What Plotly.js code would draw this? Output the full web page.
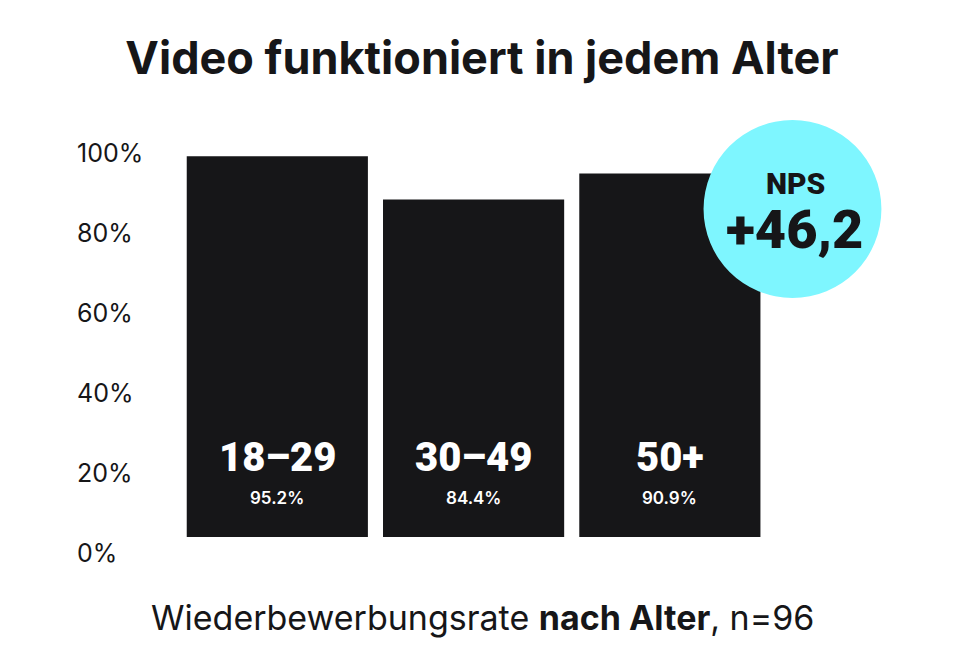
<!DOCTYPE html>
<html>
<head>
<meta charset="utf-8">
<script src="https://cdn.plot.ly/plotly-3.0.1.min.js"></script>
<style>html,body{margin:0;padding:0;background:#fff;}#chart{width:980px;height:661px;}</style>
</head>
<body>
<div id="chart"></div>
<script>
const categories = ["18–29", "30–49", "50+"];
const values = [95.2, 84.4, 90.9];
const valueLabels = ["95.2%", "84.4%", "90.9%"];
const yTicks = [0, 20, 40, 60, 80, 100];
const yTickText = ["0%", "20%", "40%", "60%", "80%", "100%"];
const npsLabel = "NPS";
const npsValue = "+46,2";
const titleText = "Video funktioniert in jedem Alter";
const footerText = "Wiederbewerbungsrate <b>nach Alter</b>, n=96";

const FONT = "Inter, 'Open Sans', sans-serif";
const HEAVY = "Roboto, Inter, sans-serif";
const DARK = "#161618";

// baseline (0%) at y=537, 4 px per percent; plot area x 74..768.5, y 120..585
const L = 74, R = 768.5, T = 120, B = 585, BASE = 537;
const px = v => (v - L) / (R - L);
const py = v => (B - v) / (B - T);

const annotations = [];
categories.forEach((c, i) => {
  annotations.push({x: c, y: 20, xref: "x", yref: "y", text: c, showarrow: false,
    font: {family: HEAVY, size: 40, color: "#ffffff", weight: 900}, xanchor: "center", yanchor: "middle"});
  annotations.push({x: c, y: 9.75, xref: "x", yref: "y", text: valueLabels[i], showarrow: false,
    font: {family: FONT, size: 17, color: "#ffffff", weight: 600}, xanchor: "center", yanchor: "middle"});
});
annotations.push({x: px(796), y: py(183), xref: "paper", yref: "paper", text: npsLabel, showarrow: false,
  font: {family: HEAVY, size: 30, color: DARK, weight: 900}, xanchor: "center", yanchor: "middle"});
annotations.push({x: px(795), y: py(229), xref: "paper", yref: "paper", text: npsValue, showarrow: false,
  font: {family: HEAVY, size: 54, color: DARK, weight: 900}, xanchor: "center", yanchor: "middle"});
annotations.push({x: px(483), y: py(617), xref: "paper", yref: "paper", text: footerText, showarrow: false,
  font: {family: FONT, size: 34, color: DARK}, xanchor: "center", yanchor: "middle"});

const data = [{
  type: "bar",
  x: categories,
  y: values,
  marker: {color: DARK},
  hoverinfo: "skip"
}];

const cx = 793, cy = 209, r = 89;

const layout = {
  width: 980, height: 661,
  paper_bgcolor: "#ffffff", plot_bgcolor: "#ffffff",
  margin: {l: L, r: 980 - R, t: T, b: 661 - B},
  title: {text: "<b>" + titleText + "</b>", x: 482 / 980, xanchor: "center", xref: "container", y: 1 - 58 / 661, yanchor: "middle",
    font: {family: FONT, size: 45, color: DARK, weight: 700}},
  bargap: 0.077,
  showlegend: false,
  xaxis: {type: "category", range: [-0.5 - (178.5 - L) / 195, 2.5], showticklabels: false, showgrid: false, zeroline: false, showline: false, ticks: ""},
  yaxis: {range: [-(B - BASE) / 4, (BASE - T) / 4], tickvals: yTicks, ticktext: yTickText, showgrid: false, zeroline: false, showline: false,
    ticks: "", ticklabelposition: "inside", ticklabelshift: 16,
    tickfont: {family: FONT, size: 25, color: DARK}},
  shapes: [{type: "circle", xref: "paper", yref: "paper", x0: px(cx - r), x1: px(cx + r), y0: py(cy + r), y1: py(cy - r),
    fillcolor: "#7ef6ff", line: {width: 0}, layer: "above"}],
  annotations: annotations
};

Plotly.newPlot("chart", data, layout, {displayModeBar: false, staticPlot: true});
</script>
</body>
</html>
